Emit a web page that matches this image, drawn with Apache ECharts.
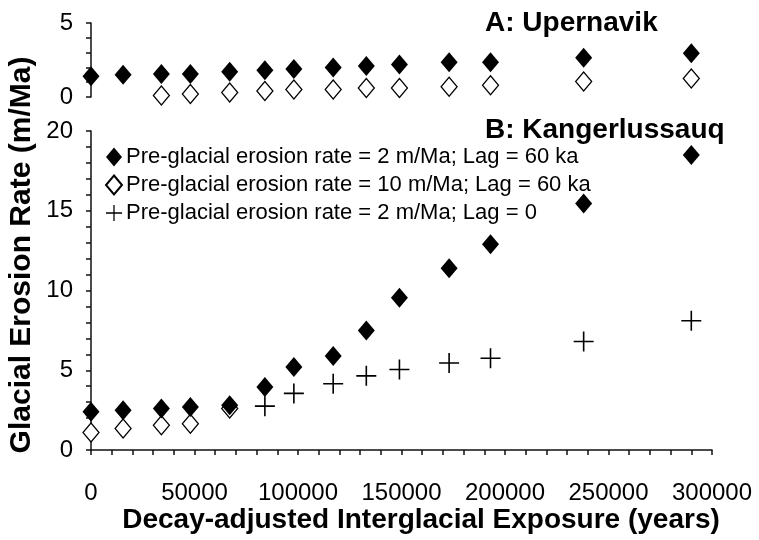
<!DOCTYPE html>
<html>
<head>
<meta charset="utf-8">
<style>
  html, body { margin: 0; padding: 0; background: #fff; }
  #chart { width: 759px; height: 540px; }
</style>
<script src="https://cdn.jsdelivr.net/npm/echarts@6/dist/echarts.min.js"></script>
</head>
<body>
<div id="chart"></div>
<script>
// Decay-adjusted interglacial exposure (years) for each modelled sample
const exposureYears = [0, 15500, 34000, 48000, 67000, 84000, 98000, 117000, 133000, 149000, 173000, 193000, 238000, 290000];

// A: Upernavik
const upernavikRate2Lag60 = [1.4, 1.5, 1.55, 1.55, 1.7, 1.8, 1.9, 2.0, 2.1, 2.2, 2.35, 2.35, 2.65, 2.95];
const upernavikRate10Lag60 = [null, null, 0.1, 0.2, 0.3, 0.4, 0.5, 0.5, 0.6, 0.6, 0.7, 0.8, 1.05, 1.25];

// B: Kangerlussauq
const kangerRate2Lag60 = [2.4, 2.5, 2.6, 2.7, 2.8, 3.95, 5.2, 5.9, 7.5, 9.55, 11.4, 12.9, 15.45, 18.5];
const kangerRate10Lag60 = [1.1, 1.35, 1.55, 1.65, 2.6, null, null, null, null, null, null, null, null, null];
const kangerRate2Lag0 = [null, null, null, null, null, 2.75, 3.55, 4.15, 4.65, 5.05, 5.45, 5.75, 6.8, 8.1];

const seriesNames = [
  'Pre-glacial erosion rate = 2 m/Ma; Lag = 60 ka',
  'Pre-glacial erosion rate = 10 m/Ma; Lag = 60 ka',
  'Pre-glacial erosion rate = 2 m/Ma; Lag = 0'
];
const panelTitles = ['A: Upernavik', 'B: Kangerlussauq'];
const xTitle = 'Decay-adjusted Interglacial Exposure (years)';
const yTitle = 'Glacial Erosion Rate (m/Ma)';

const FONT = "'Liberation Sans', Arial, sans-serif";
const INK = '#000';
const PLUS = 'path://M0,9.2H20V10.8H0Z M9.2,0H10.8V20H9.2Z';

function pairs(values) {
  const out = [];
  values.forEach((v, i) => { if (v !== null) out.push([exposureYears[i], v]); });
  return out;
}

const axisLineStyle = { lineStyle: { color: '#111', width: 1.5 } };
const tickStyle = { show: true, inside: false, length: 5, lineStyle: { color: '#111', width: 1.5 } };
const tickLabel = { margin: 18, fontSize: 24, color: INK, fontFamily: FONT, formatter: v => (v % 5 === 0 ? String(v) : '') };

// scatter marks are drawn fully opaque (the series default is 0.8)
const filledDiamond = { symbol: 'diamond', symbolSize: [17, 20], itemStyle: { color: '#000', opacity: 1 } };
const openDiamond = { symbol: 'diamond', symbolSize: [16, 19], itemStyle: { color: '#fff', borderColor: '#000', borderWidth: 1.3, opacity: 1 } };
const plusMark = { symbol: PLUS, symbolSize: [20, 20], itemStyle: { color: '#000', opacity: 1 } };

const chart = echarts.init(document.getElementById('chart'), null, { renderer: 'canvas' });

chart.setOption({
  backgroundColor: '#fff',
  animation: false,
  textStyle: { fontFamily: FONT, color: INK },
  title: [
    { text: panelTitles[0], left: 480, top: 4, textStyle: { fontFamily: FONT, fontSize: 28, fontWeight: 'bold', color: INK } },
    { text: panelTitles[1], left: 480, top: 111, textStyle: { fontFamily: FONT, fontSize: 28, fontWeight: 'bold', color: INK } }
  ],
  legend: {
    orient: 'vertical',
    left: 100,
    top: 141,
    itemWidth: 16,
    itemHeight: 19,
    itemGap: 6,
    selectedMode: false,
    data: seriesNames,
    textStyle: { fontFamily: FONT, fontSize: 22, color: INK, padding: [0, 0, 0, -1] }
  },
  grid: [
    { left: 91, width: 621, top: 23, height: 74 },
    { left: 91, width: 621, top: 131, height: 319 }
  ],
  xAxis: [
    { gridIndex: 0, type: 'value', min: 0, max: 300000, interval: 10000, show: false },
    {
      gridIndex: 1, type: 'value', min: 0, max: 300000, interval: 10000,
      axisLine: axisLineStyle, axisTick: tickStyle, splitLine: { show: false },
      axisLabel: {
        margin: 31, fontSize: 24, color: INK, fontFamily: FONT,
        formatter: v => (v % 50000 === 0 ? String(v) : '')
      }
    }
  ],
  yAxis: [
    {
      gridIndex: 0, type: 'value', min: 0, max: 5, interval: 1,
      axisLine: { show: true, ...axisLineStyle }, axisTick: tickStyle, splitLine: { show: false },
      axisLabel: tickLabel
    },
    {
      gridIndex: 1, type: 'value', min: 0, max: 20, interval: 1,
      axisLine: { show: true, ...axisLineStyle }, axisTick: tickStyle, splitLine: { show: false },
      axisLabel: tickLabel
    }
  ],
  graphic: [
    {
      type: 'text', position: [421, 520],
      style: { text: xTitle, x: 0, y: 0, fontFamily: FONT, fontSize: 28, fontWeight: 'bold', fill: INK, textAlign: 'center', textVerticalAlign: 'middle' }
    },
    {
      type: 'text', rotation: Math.PI / 2, position: [22, 255],
      style: { text: yTitle, x: 0, y: 0, fontFamily: FONT, fontSize: 30, fontWeight: 'bold', fill: INK, textAlign: 'center', textVerticalAlign: 'middle' }
    }
  ],
  series: [
    { name: seriesNames[0], type: 'scatter', xAxisIndex: 0, yAxisIndex: 0, data: pairs(upernavikRate2Lag60), ...filledDiamond, z: 3 },
    { name: seriesNames[1], type: 'scatter', xAxisIndex: 0, yAxisIndex: 0, data: pairs(upernavikRate10Lag60), ...openDiamond, z: 2 },
    { name: seriesNames[1], type: 'scatter', xAxisIndex: 1, yAxisIndex: 1, data: pairs(kangerRate10Lag60), ...openDiamond, z: 2 },
    { name: seriesNames[0], type: 'scatter', xAxisIndex: 1, yAxisIndex: 1, data: pairs(kangerRate2Lag60), ...filledDiamond, z: 3 },
    { name: seriesNames[2], type: 'scatter', xAxisIndex: 1, yAxisIndex: 1, data: pairs(kangerRate2Lag0), ...plusMark, z: 1 }
  ]
});
</script>
</body>
</html>
